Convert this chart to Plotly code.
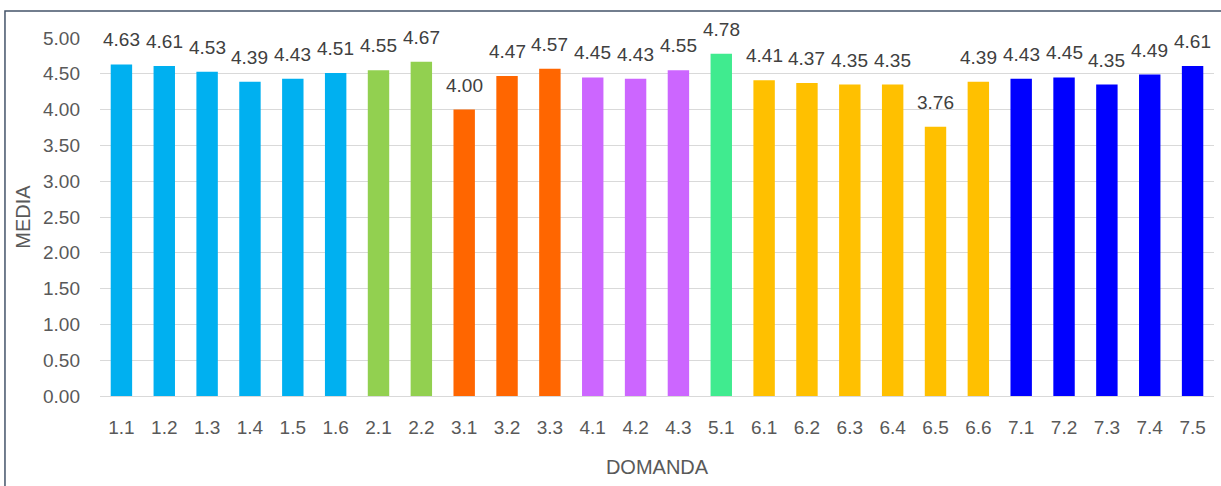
import plotly.graph_objects as go

categories = ["1.1","1.2","1.3","1.4","1.5","1.6","2.1","2.2","3.1","3.2","3.3",
              "4.1","4.2","4.3","5.1","6.1","6.2","6.3","6.4","6.5","6.6",
              "7.1","7.2","7.3","7.4","7.5"]
values = [4.63,4.61,4.53,4.39,4.43,4.51,4.55,4.67,4.00,4.47,4.57,
          4.45,4.43,4.55,4.78,4.41,4.37,4.35,4.35,3.76,4.39,
          4.43,4.45,4.35,4.49,4.61]
group_colors = {"1": "#00B0F0", "2": "#92D050", "3": "#FF6600", "4": "#CC66FF",
                "5": "#40EB8F", "6": "#FFC000", "7": "#0000FF"}
colors = [group_colors[c.split(".")[0]] for c in categories]
y_ticks = [0, 0.5, 1, 1.5, 2, 2.5, 3, 3.5, 4, 4.5, 5]
y_tick_text = [f"{v:.2f}" for v in y_ticks]

FONT = "Liberation Sans, Arial"
GRAY = "#595959"

fig = go.Figure(go.Bar(
    x=categories, y=values, marker=dict(color=colors, line=dict(width=0)),
    width=0.5,
))

# category index positions for annotations (categorical axis)
annotations = [dict(x=i, y=v, xref="x", yref="y", text=f"{v:.2f}", showarrow=False,
                    yanchor="bottom", yshift=12,
                    font=dict(size=19, color="#404040", family=FONT))
               for i, v in enumerate(values)]

fig.update_layout(
    width=1221, height=486,
    margin=dict(l=100, r=7, t=38, b=90),
    plot_bgcolor="white", paper_bgcolor="white",
    showlegend=False,
    font=dict(family=FONT, color=GRAY),
    annotations=annotations,
    xaxis=dict(type="category",
               title=dict(text="DOMANDA", font=dict(size=20, color=GRAY), standoff=23),
               tickfont=dict(size=19, color=GRAY), showgrid=False,
               ticklabelstandoff=14,
               showline=True, linecolor="#D9D9D9", linewidth=1, ticks=""),
    yaxis=dict(title=dict(text="MEDIA", font=dict(size=20, color=GRAY), standoff=7),
               range=[0, 5], tickvals=y_ticks, ticktext=y_tick_text,
               tickfont=dict(size=19, color=GRAY), ticklabelstandoff=19,
               showgrid=True, gridcolor="#D9D9D9", gridwidth=1, zeroline=False),
    shapes=[dict(type="rect", xref="paper", yref="paper",
                 x0=-0.0853, x1=1.05, y0=-0.5, y1=1.0754,
                 line=dict(color="#44546A", width=1.5), layer="below")],
)

fig.write_html("out.html")
